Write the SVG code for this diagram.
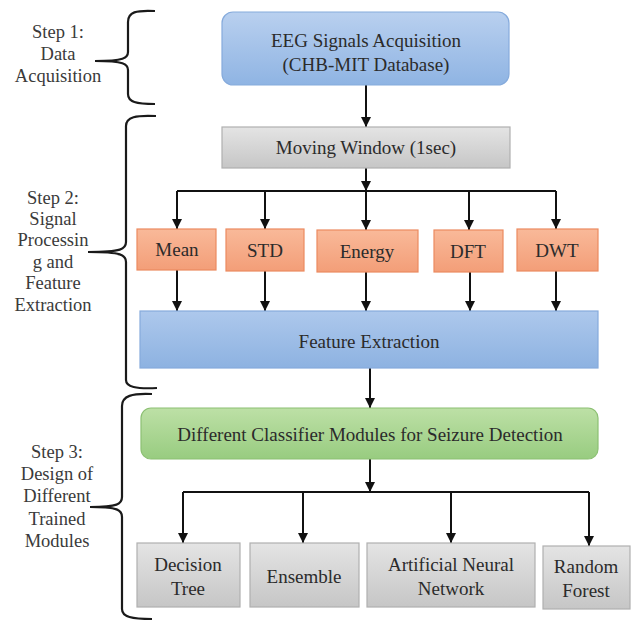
<svg xmlns="http://www.w3.org/2000/svg" width="632" height="621" viewBox="0 0 632 621">
<defs>
<linearGradient id="gBlue" x1="0" y1="0" x2="0" y2="1"><stop offset="0" stop-color="#b9d0ef"/><stop offset="1" stop-color="#8fb4e3"/></linearGradient>
<linearGradient id="gBlue2" x1="0" y1="0" x2="0" y2="1"><stop offset="0" stop-color="#adc8ec"/><stop offset="1" stop-color="#8db2e1"/></linearGradient>
<linearGradient id="gGray" x1="0" y1="0" x2="0" y2="1"><stop offset="0" stop-color="#e4e4e4"/><stop offset="1" stop-color="#c6c6c6"/></linearGradient>
<linearGradient id="gOrange" x1="0" y1="0" x2="0" y2="1"><stop offset="0" stop-color="#f9b999"/><stop offset="1" stop-color="#f39e78"/></linearGradient>
<linearGradient id="gGreen" x1="0" y1="0" x2="0" y2="1"><stop offset="0" stop-color="#bde0a6"/><stop offset="1" stop-color="#98cc80"/></linearGradient>
<marker id="arr" viewBox="0 0 10 10" refX="10" refY="5" markerWidth="10" markerHeight="10" markerUnits="userSpaceOnUse" orient="auto"><path d="M0,0 L10,5 L0,10 Z" fill="#111"/></marker>
</defs>
<style>
text{font-family:"Liberation Serif",Tinos,"Noto Serif","DejaVu Serif","Times New Roman",Times,"Nimbus Roman","FreeSerif",serif;fill:#2b2b2b;text-anchor:middle}
.t{font-size:19px}
.s{font-size:18.5px;fill:#3a3a3a}
.blue{fill:url(#gBlue);stroke:#86abdc;stroke-width:1.2}
.blue2{fill:url(#gBlue2);stroke:#86abdc;stroke-width:1.2}
.gray{fill:url(#gGray);stroke:#b0b0b0;stroke-width:1.2}
.orange{fill:url(#gOrange);stroke:#ec8a60;stroke-width:1.2}
.green{fill:url(#gGreen);stroke:#8cc073;stroke-width:1.2}
.c{fill:none;stroke:#111;stroke-width:2}
.a{fill:none;stroke:#111;stroke-width:2;marker-end:url(#arr)}
.br{fill:none;stroke:#1a1a1a;stroke-width:2.2}
</style>
<g id="braces">
<path class="br" d="M155,11 C136,10 128,12 128,22 L128,52 C128,58 124,61 95,61 C124,61 128,64 128,70 L128,94 C128,102 136,104 155,104"/>
<path class="br" d="M156,116 C136,115 126,117 126,126 L126,242 C126,249 122,252 88,252 C122,252 126,255 126,262 L126,380 C126,387 136,389 157,388"/>
<path class="br" d="M152,394 C132,393 122,396 122,406 L122,497 C122,504 118,507 90,507 C118,507 122,510 122,517 L122,609 C122,617 132,619 152,619"/>
</g>
<g id="step1">
<text class="s" x="58" y="38">Step 1:</text>
<text class="s" x="58" y="60">Data</text>
<text class="s" x="58" y="82">Acquisition</text>
</g>
<g id="step2">
<text class="s" x="53" y="204">Step 2:</text>
<text class="s" x="53" y="225">Signal</text>
<text class="s" x="53" y="246">Processin</text>
<text class="s" x="53" y="268">g and</text>
<text class="s" x="53" y="289">Feature</text>
<text class="s" x="53" y="311">Extraction</text>
</g>
<g id="step3">
<text class="s" x="57" y="458">Step 3:</text>
<text class="s" x="57" y="480">Design of</text>
<text class="s" x="57" y="502">Different</text>
<text class="s" x="57" y="525">Trained</text>
<text class="s" x="57" y="547">Modules</text>
</g>
<g id="connectors">
<line class="a" x1="366" y1="85" x2="366" y2="127"/>
<line class="a" x1="366" y1="168" x2="366" y2="191"/>
<path class="c" d="M177,191 L556,191"/>
<line class="a" x1="177" y1="191" x2="177" y2="229"/>
<line class="a" x1="265" y1="191" x2="265" y2="229"/>
<line class="a" x1="366" y1="191" x2="366" y2="230"/>
<line class="a" x1="469" y1="191" x2="469" y2="230"/>
<line class="a" x1="556" y1="191" x2="556" y2="229"/>
<line class="a" x1="177" y1="270" x2="177" y2="311"/>
<line class="a" x1="265" y1="271" x2="265" y2="311"/>
<line class="a" x1="366" y1="272" x2="366" y2="311"/>
<line class="a" x1="470" y1="272" x2="470" y2="311"/>
<line class="a" x1="556" y1="271" x2="556" y2="311"/>
<line class="a" x1="370" y1="368" x2="370" y2="408"/>
<line class="a" x1="370" y1="459" x2="370" y2="492"/>
<path class="c" d="M183,492 L589,492"/>
<line class="a" x1="183" y1="492" x2="183" y2="543"/>
<line class="a" x1="303" y1="492" x2="303" y2="543"/>
<line class="a" x1="451" y1="492" x2="451" y2="543"/>
<line class="a" x1="589" y1="492" x2="589" y2="546"/>
</g>
<g id="eeg">
<rect class="blue" x="222" y="12" width="287" height="73" rx="11"/>
<text class="t" x="366" y="47">EEG Signals Acquisition</text>
<text class="t" x="366" y="71">(CHB-MIT Database)</text>
</g>
<g id="moving-window">
<rect class="gray" x="222" y="127" width="288" height="41"/>
<text class="t" x="366" y="154">Moving Window (1sec)</text>
</g>
<g id="mean">
<rect class="orange" x="137" y="229" width="79" height="41"/>
<text class="t" x="177" y="256">Mean</text>
</g>
<g id="std">
<rect class="orange" x="226" y="229" width="78" height="42"/>
<text class="t" x="265" y="257">STD</text>
</g>
<g id="energy">
<rect class="orange" x="317" y="230" width="101" height="42"/>
<text class="t" x="367" y="258">Energy</text>
</g>
<g id="dft">
<rect class="orange" x="434" y="230" width="69" height="42"/>
<text class="t" x="468" y="258">DFT</text>
</g>
<g id="dwt">
<rect class="orange" x="517" y="229" width="81" height="42"/>
<text class="t" x="557" y="257">DWT</text>
</g>
<g id="feature-extraction">
<rect class="blue2" x="140" y="311" width="458" height="57"/>
<text class="t" x="369" y="348">Feature Extraction</text>
</g>
<g id="classifier">
<rect class="green" x="141" y="408" width="457" height="51" rx="10"/>
<text class="t" x="370" y="441">Different Classifier Modules for Seizure Detection</text>
</g>
<g id="decision-tree">
<rect class="gray" x="137" y="543" width="103" height="64"/>
<text class="t" x="188" y="571">Decision</text>
<text class="t" x="188" y="595">Tree</text>
</g>
<g id="ensemble">
<rect class="gray" x="250" y="543" width="109" height="64"/>
<text class="t" x="304" y="583">Ensemble</text>
</g>
<g id="ann">
<rect class="gray" x="367" y="543" width="168" height="64"/>
<text class="t" x="451" y="571">Artificial Neural</text>
<text class="t" x="451" y="595">Network</text>
</g>
<g id="random-forest">
<rect class="gray" x="543" y="546" width="87" height="63"/>
<text class="t" x="586" y="573">Random</text>
<text class="t" x="586" y="597">Forest</text>
</g>
</svg>
